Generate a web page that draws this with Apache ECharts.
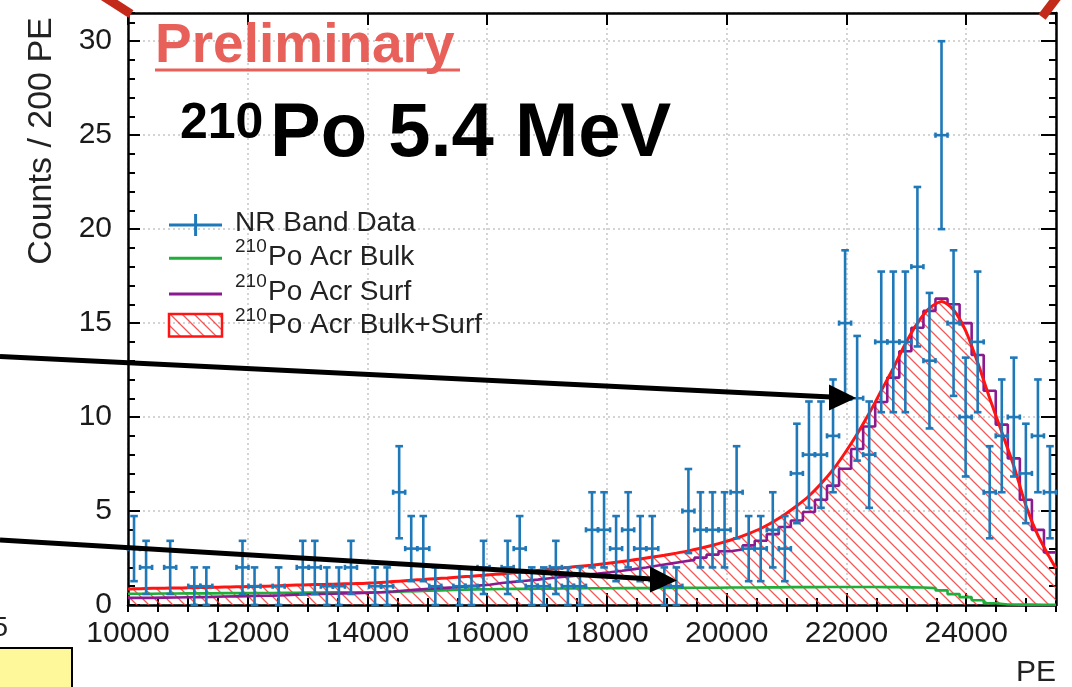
<!DOCTYPE html>
<html>
<head>
<meta charset="utf-8">
<title>210Po 5.4 MeV</title>
<script src="https://cdn.jsdelivr.net/npm/echarts@6/dist/echarts.min.js"></script>
<style>
    html, body { margin: 0; padding: 0; background: #fff; }
    #chart { width: 1072px; height: 687px; }
</style>
</head>
<body>
<div id="chart"></div>
<script>
    // histogram binning (77 bins between 10000 and 25500 PE)
    var binLo = 10000, binHi = 25500, nBins = 77;

    // NR band data, counts per bin
    var counts = [3, 2, 0, 2, 0, 1, 1, 0, 0, 2,
        1, 0, 1, 0, 2, 2, 1, 1, 2, 0,
        1, 1, 6, 3, 3, 1, 0, 1, 1, 2,
        0, 2, 3, 1, 1, 2, 1, 1, 4, 4,
        3, 4, 3, 3, 1, 1, 5, 4, 4, 4,
        6, 3, 3, 4, 3, 7, 8, 8, 9, 15,
        11, 8, 14, 14, 14, 18, 13, 25, 15, 10,
        14, 6, 9, 10, 7, 9, 6];

    // Bulk+Surf curve (red), at bin centres, plus the two range ends
    var fitAtLo = 0.85, fitAtHi = 1.95;
    var fitTotal = [0.86, 0.88, 0.89, 0.90, 0.91, 0.92, 0.93, 0.95, 0.96, 0.97,
        0.99, 1.00, 1.02, 1.05, 1.07, 1.09, 1.10, 1.12, 1.13, 1.15,
        1.18, 1.22, 1.27, 1.32, 1.36, 1.40, 1.44, 1.49, 1.53, 1.58,
        1.63, 1.68, 1.74, 1.80, 1.87, 1.94, 2.00, 2.06, 2.12, 2.19,
        2.27, 2.36, 2.45, 2.55, 2.65, 2.76, 2.88, 3.02, 3.18, 3.36,
        3.56, 3.80, 4.07, 4.42, 4.82, 5.28, 5.80, 6.45, 7.20, 8.10,
        9.10, 10.2, 11.4, 12.6, 13.9, 15.0, 15.8, 16.15, 15.7, 14.6,
        12.9, 11.0, 9.2, 7.4, 5.3, 3.7, 2.5];

    // Acr Surf histogram (purple)
    var surfHist = [0.38, 0.38, 0.39, 0.40, 0.41, 0.42, 0.43, 0.45, 0.46, 0.47,
        0.49, 0.50, 0.52, 0.55, 0.57, 0.59, 0.60, 0.62, 0.63, 0.65,
        0.68, 0.72, 0.77, 0.82, 0.86, 0.90, 0.94, 0.99, 1.03, 1.08,
        1.17, 1.23, 1.29, 1.35, 1.42, 1.49, 1.55, 1.61, 1.67, 1.74,
        1.82, 1.91, 2.00, 2.10, 2.20, 2.30, 2.40, 2.52, 2.68, 2.86,
        2.95, 3.17, 3.42, 3.77, 4.15, 4.50, 4.95, 5.60, 6.35, 7.25,
        8.30, 9.50, 10.8, 12.1, 13.5, 14.75, 15.65, 16.3, 16.0, 15.0,
        13.3, 11.4, 9.6, 7.8, 5.6, 4.0, 2.8];

    // Acr Bulk histogram (green)
    var bulkHist = [0.60, 0.60, 0.61, 0.61, 0.62, 0.62, 0.62, 0.63, 0.63, 0.63,
        0.64, 0.64, 0.65, 0.65, 0.66, 0.66, 0.67, 0.67, 0.68, 0.68,
        0.68, 0.70, 0.72, 0.74, 0.76, 0.78, 0.80, 0.82, 0.83, 0.84,
        0.85, 0.86, 0.86, 0.87, 0.87, 0.88, 0.88, 0.89, 0.89, 0.89,
        0.90, 0.90, 0.90, 0.91, 0.91, 0.91, 0.92, 0.92, 0.92, 0.93,
        0.93, 0.93, 0.94, 0.94, 0.95, 0.95, 0.95, 0.96, 0.96, 0.96,
        0.96, 0.96, 0.95, 0.95, 0.94, 0.93, 0.90, 0.78, 0.58, 0.42,
        0.25, 0.09, 0.03, 0.02, 0.02, 0.01, 0.01];

    var xTickMajor = 2000, xTickMinor = 500;
    var yMax = 31.5, yTickMajor = 5, yTickMinor = 1;

    var cBlue = '#1f78b8', cGreen = '#1fae3a', cPurple = '#8a1a8e', cRed = '#ff1414';
    var FONT = '"Liberation Sans", Arial, Helvetica, sans-serif';

    var binW = (binHi - binLo) / nBins;
    function edge(i) { return binLo + i * binW; }
    function centre(i) { return binLo + (i + 0.5) * binW; }

    // data points: [x, n, sqrt(n)] (Poisson errors), empty bins not drawn
    var pts = [];
    counts.forEach(function (n, i) {
        if (n > 0) pts.push([centre(i), n, Math.sqrt(n)]);
    });

    var fitLine = [[binLo, fitAtLo]];
    fitTotal.forEach(function (v, i) { fitLine.push([centre(i), v]); });
    fitLine.push([binHi, fitAtHi]);

    function histLine(arr) {
        var out = arr.map(function (v, i) { return [edge(i), v]; });
        out.push([binHi, arr[arr.length - 1]]);
        return out;
    }

    // red hatch pattern
    function hatch(col, w) {
        var s = 12, c = document.createElement('canvas');
        c.width = s; c.height = s;
        var g = c.getContext('2d');
        g.strokeStyle = col;
        g.lineWidth = w;
        g.beginPath();
        g.moveTo(-2, -2); g.lineTo(s + 2, s + 2);
        g.moveTo(-2, s - 2); g.lineTo(2, s + 2);
        g.moveTo(s - 2, -2); g.lineTo(s + 2, 2);
        g.stroke();
        return c;
    }
    var hatchFill = {image: hatch('rgba(240,60,60,0.85)', 1.3), repeat: 'repeat'};

    function renderErr(params, api) {
        var x = api.value(0), n = api.value(1), e = api.value(2);
        var pc = api.coord([x, n]);
        var pt = api.coord([x, n + e]);
        var pb = api.coord([x, n - e]);
        var pl = api.coord([x - binW / 2, n]);
        var pr = api.coord([x + binW / 2, n]);
        var st = {stroke: cBlue, lineWidth: 2.6};
        function ln(x1, y1, x2, y2) {
            return {type: 'line', shape: {x1: x1, y1: y1, x2: x2, y2: y2}, style: st};
        }
        return {
            type: 'group', children: [
                ln(pt[0], pt[1], pb[0], pb[1]),
                ln(pl[0], pc[1], pr[0], pr[1]),
                ln(pt[0] - 3.8, pt[1], pt[0] + 3.8, pt[1]),
                ln(pb[0] - 3.8, pb[1], pb[0] + 3.8, pb[1]),
                ln(pl[0], pc[1] - 2.6, pl[0], pc[1] + 2.6),
                ln(pr[0], pc[1] - 2.6, pr[0], pc[1] + 2.6)
            ]
        };
    }

    var tickStyle = {color: '#000', width: 2};
    var labelStyle = {fontSize: 30, color: '#1a1a1a', fontFamily: FONT};
    var gridLine = {show: true, lineStyle: {color: '#c6c6c6', type: [2, 3], width: 1.5}};
    var none = {show: false};
    function plain(v) { return String(v); }

    function xAx(pos, step, len, main) {
        return {
            type: 'value', position: pos, min: binLo, max: binHi, interval: step,
            axisLine: main ? {show: true, onZero: false, lineStyle: {color: '#000', width: 2.5}} : none,
            axisTick: {show: true, inside: true, length: len, lineStyle: tickStyle},
            axisLabel: (main && pos === 'bottom') ?
                Object.assign({show: true, margin: 14, showMaxLabel: false, showMinLabel: true,
                    formatter: plain}, labelStyle) : none,
            splitLine: (main && pos === 'bottom') ? gridLine : none
        };
    }
    function yAx(pos, step, len, main) {
        return {
            type: 'value', position: pos, min: 0, max: yMax, interval: step,
            axisLine: main ? {show: true, onZero: false, lineStyle: {color: '#000', width: 2.5}} : none,
            axisTick: {show: true, inside: true, length: len, lineStyle: tickStyle},
            axisLabel: (main && pos === 'left') ?
                Object.assign({show: true, margin: 16, showMaxLabel: false, formatter: plain}, labelStyle) : none,
            splitLine: (main && pos === 'left') ? gridLine : none
        };
    }

    function txt(s, x, y, font, col, extra) {
        var el = {
            type: 'text', x: x, y: y, z: 100,
            style: {
                text: s, font: font, fill: col || '#000',
                align: 'left', verticalAlign: 'middle',
                textAlign: 'left', textVerticalAlign: 'middle'
            }
        };
        if (extra) Object.assign(el, extra);
        return el;
    }
    function seg(x1, y1, x2, y2, col, w) {
        return {type: 'line', z: 100, shape: {x1: x1, y1: y1, x2: x2, y2: y2},
            style: {stroke: col, lineWidth: w}};
    }

    var legendTxt = '28px ' + FONT, supTxt = '19px ' + FONT;

    var graphics = [
        // axis titles
        txt('Counts / 200 PE', 41.6, 141, '34px ' + FONT, '#222',
            {rotation: Math.PI / 2, style: {text: 'Counts / 200 PE', font: '34px ' + FONT, fill: '#222',
                align: 'center', verticalAlign: 'middle', textAlign: 'center', textVerticalAlign: 'middle'}}),
        {type: 'text', x: 1056, y: 673, z: 100, style: {text: 'PE', font: '30px ' + FONT, fill: '#222',
            align: 'right', verticalAlign: 'middle', textAlign: 'right', textVerticalAlign: 'middle'}},

        // Preliminary + title
        txt('Preliminary', 155, 47, 'bold 55px ' + FONT, '#e8605a'),
        seg(155, 70, 460, 70, '#e8605a', 3),
        txt('210', 180, 124.5, 'bold 50px ' + FONT, '#000'),
        txt('Po 5.4 MeV', 270, 135.4, 'bold 76px ' + FONT, '#000'),

        // legend
        seg(169, 225, 222, 225, cBlue, 3),
        seg(195.6, 214, 195.6, 236, cBlue, 3),
        txt('NR Band Data', 235, 223.7, legendTxt, '#222'),
        seg(169, 258.3, 222, 258.3, cGreen, 3),
        txt('210', 235, 247, supTxt, '#222'),
        txt('Po Acr Bulk', 268, 257, legendTxt, '#222'),
        seg(169, 294, 222, 294, cPurple, 3),
        txt('210', 235, 281.5, supTxt, '#222'),
        txt('Po Acr Surf', 268, 292, legendTxt, '#222'),
        {type: 'rect', z: 100, shape: {x: 169, y: 314, width: 53, height: 22.5},
            style: {fill: hatchFill, stroke: cRed, lineWidth: 2.5}},
        txt('210', 235, 315.4, supTxt, '#222'),
        txt('Po Acr Bulk+Surf', 268, 325.3, legendTxt, '#222'),

        // slide annotations: arrows, callout corners, yellow box, clipped glyph
        seg(0, 356.5, 831, 397, '#000', 5),
        {type: 'polygon', z: 100, shape: {points: [[856, 398], [829, 384.5], [829, 410.5]]}, style: {fill: '#000'}},
        seg(0, 540, 652, 579, '#000', 5),
        {type: 'polygon', z: 100, shape: {points: [[677, 580.5], [650, 566.5], [650, 592.5]]}, style: {fill: '#000'}},
        seg(103, -4, 131, 14, '#c42a1a', 9),
        seg(1042, 17, 1058, -4, '#c42a1a', 9),
        {type: 'rect', z: 100, shape: {x: -3, y: 648, width: 75, height: 45},
            style: {fill: '#fff89a', stroke: '#000', lineWidth: 2}},
        {type: 'text', x: 8, y: 628, z: 100, style: {text: '5', font: '28px ' + FONT, fill: '#222',
            align: 'right', verticalAlign: 'middle', textAlign: 'right', textVerticalAlign: 'middle'}}
    ];

    var chart = echarts.init(document.getElementById('chart'), null, {renderer: 'canvas'});
    chart.setOption({
        animation: false,
        backgroundColor: '#fff',
        grid: {left: 128, right: 16, top: 13, bottom: 82, containLabel: false},
        xAxis: [
            xAx('bottom', xTickMajor, 12, true),
            xAx('bottom', xTickMinor, 7, false),
            xAx('top', xTickMajor, 12, true),
            xAx('top', xTickMinor, 7, false)
        ],
        yAxis: [
            yAx('left', yTickMajor, 12, true),
            yAx('left', yTickMinor, 7, false),
            yAx('right', yTickMajor, 15, true),
            yAx('right', yTickMinor, 7, false)
        ],
        series: [
            {
                name: 'hatch', type: 'line', z: 1, data: fitLine, smooth: 0.25,
                symbol: 'none', lineStyle: {width: 0, opacity: 0},
                areaStyle: {color: hatchFill, opacity: 1}
            },
            {
                name: '210Po Acr Bulk', type: 'line', z: 2, step: 'end', data: histLine(bulkHist),
                symbol: 'none', lineStyle: {color: cGreen, width: 2.6}
            },
            {
                name: '210Po Acr Surf', type: 'line', z: 2, step: 'end', data: histLine(surfHist),
                symbol: 'none', lineStyle: {color: cPurple, width: 2.6}
            },
            {
                name: '210Po Acr Bulk+Surf', type: 'line', z: 3, data: fitLine, smooth: 0.25,
                symbol: 'none', lineStyle: {color: cRed, width: 3}
            },
            {
                name: 'NR Band Data', type: 'custom', z: 4, data: pts,
                encode: {x: 0, y: 1}, renderItem: renderErr
            }
        ],
        graphic: graphics
    });
</script>
</body>
</html>
